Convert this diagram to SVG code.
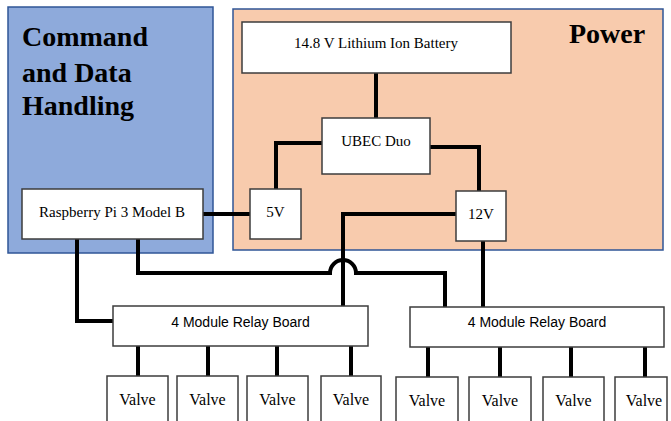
<svg xmlns="http://www.w3.org/2000/svg" width="671" height="421" viewBox="0 0 671 421">
<style>
.box{fill:#fff;stroke:#3c3c3c;stroke-width:1.5}
.ser{font-family:'Liberation Serif',Tinos,'Times New Roman','DejaVu Serif',serif;fill:#000}
.sans{font-family:'Liberation Sans',Arial,sans-serif;fill:#000;font-size:14px}
.hd{font-family:'Liberation Serif',Tinos,'Times New Roman','DejaVu Serif',serif;font-weight:bold;font-size:28px;fill:#000}
.ln{fill:none;stroke:#000;stroke-width:4}
</style>
<rect width="671" height="421" fill="#fff"/>
<g id="cdh">
<rect x="8" y="7" width="205" height="246" fill="#8eaadb" stroke="#2f5597" stroke-width="1.5"/>
<text class="hd" x="22" y="46">Command</text>
<text class="hd" x="22" y="82">and Data</text>
<text class="hd" x="22" y="115">Handling</text>
</g>
<g id="power">
<rect x="233" y="9" width="430" height="241" fill="#f8cbad" stroke="#2f5597" stroke-width="1.5"/>
<text class="hd" x="569" y="43">Power</text>
</g>
<g id="connectors">
<path class="ln" d="M376 73V118"/>
<path class="ln" d="M322 143H276V189"/>
<path class="ln" d="M430 147H479V191"/>
<path class="ln" d="M203 214H250"/>
<path class="ln" d="M456 214H343V306"/>
<path class="ln" d="M483 241V307"/>
<path class="ln" d="M77 239V321H113"/>
<path class="ln" d="M138 239V273H330A13 13 0 0 1 356 273H445V307"/>
<path class="ln" d="M138 346V376M208 346V376M277 346V376M351 346V376"/>
<path class="ln" d="M428 347V377M500 347V377M571 347V377M645 347V377"/>
</g>
<g id="battery">
<rect class="box" x="242" y="22" width="269" height="51"/>
<text class="ser" x="376" y="48" font-size="15" text-anchor="middle">14.8 V Lithium Ion Battery</text>
</g>
<g id="ubec">
<rect class="box" x="322" y="118" width="108" height="56"/>
<text class="ser" x="376" y="146" font-size="15" text-anchor="middle">UBEC Duo</text>
</g>
<g id="v5">
<rect class="box" x="250" y="189" width="51" height="50"/>
<text class="ser" x="275.5" y="217" font-size="15" text-anchor="middle">5V</text>
</g>
<g id="v12">
<rect class="box" x="456" y="191" width="50" height="50"/>
<text class="ser" x="481" y="219" font-size="15" text-anchor="middle">12V</text>
</g>
<g id="rpi">
<rect class="box" x="22" y="189" width="181" height="50"/>
<text class="ser" x="112" y="217" font-size="15" text-anchor="middle">Raspberry Pi 3 Model B</text>
</g>
<g id="relay1">
<rect class="box" x="113" y="306" width="255" height="40"/>
<text class="sans" x="240.5" y="327" text-anchor="middle">4 Module Relay Board</text>
</g>
<g id="relay2">
<rect class="box" x="410" y="307" width="254" height="40"/>
<text class="sans" x="537" y="327" text-anchor="middle">4 Module Relay Board</text>
</g>
<g id="valve1"><rect class="box" x="107" y="376" width="61" height="50"/><text class="ser" x="137.5" y="405" font-size="16" text-anchor="middle">Valve</text></g>
<g id="valve2"><rect class="box" x="177" y="376" width="61" height="50"/><text class="ser" x="207.5" y="405" font-size="16" text-anchor="middle">Valve</text></g>
<g id="valve3"><rect class="box" x="247" y="376" width="61" height="50"/><text class="ser" x="277.5" y="405" font-size="16" text-anchor="middle">Valve</text></g>
<g id="valve4"><rect class="box" x="321" y="376" width="60" height="50"/><text class="ser" x="351" y="405" font-size="16" text-anchor="middle">Valve</text></g>
<g id="valve5"><rect class="box" x="396" y="377" width="62" height="50"/><text class="ser" x="427" y="406" font-size="16" text-anchor="middle">Valve</text></g>
<g id="valve6"><rect class="box" x="469" y="377" width="62" height="50"/><text class="ser" x="500" y="406" font-size="16" text-anchor="middle">Valve</text></g>
<g id="valve7"><rect class="box" x="543" y="377" width="61" height="50"/><text class="ser" x="573.5" y="406" font-size="16" text-anchor="middle">Valve</text></g>
<g id="valve8"><rect class="box" x="615" y="377" width="52" height="50"/><text class="ser" x="644" y="406" font-size="16" text-anchor="middle">Valve</text></g>
</svg>
